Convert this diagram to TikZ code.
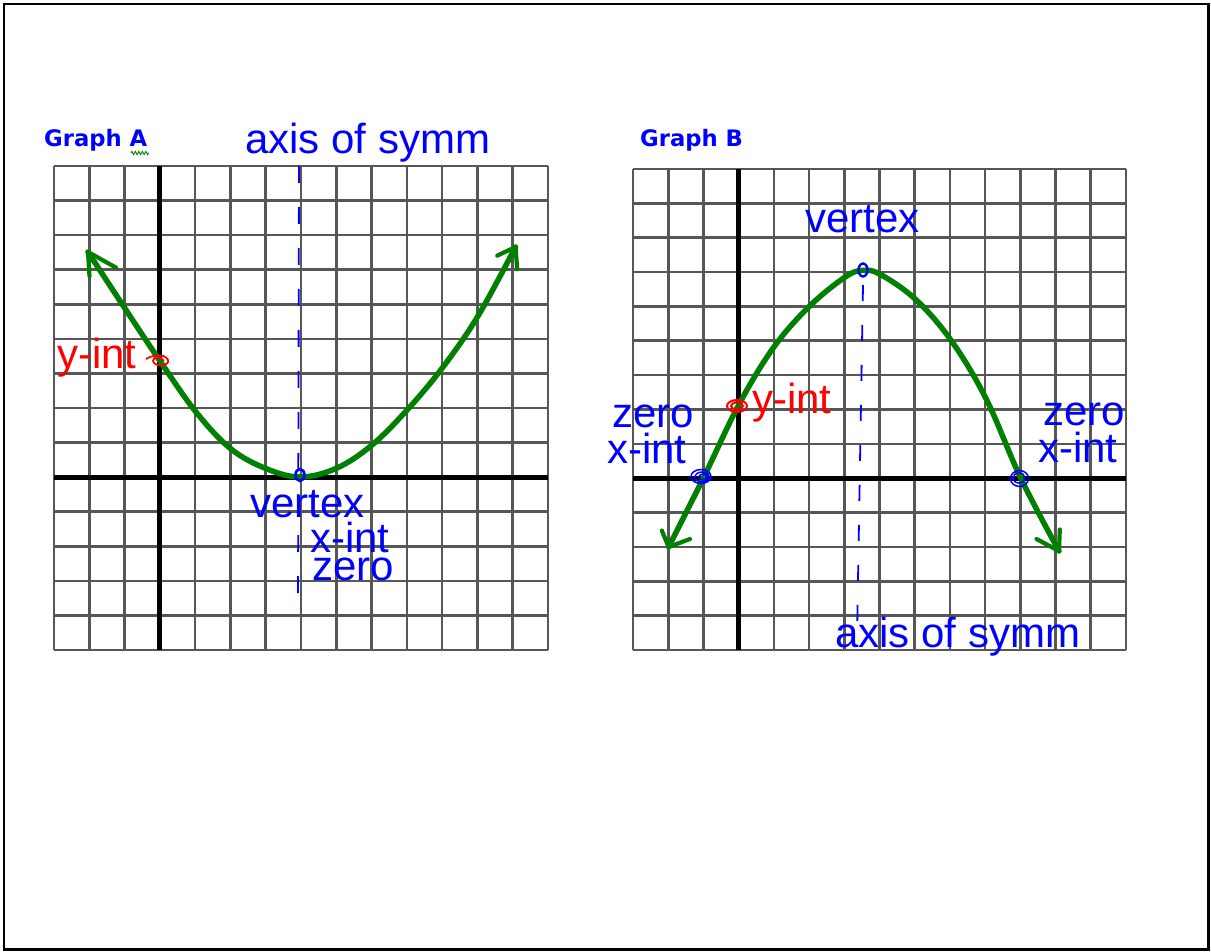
\documentclass[tikz,border=0pt]{standalone}
\usepackage{fontspec}
\setmainfont{Liberation Sans}
\newfontfamily\ttlfont{DejaVu Sans}
\usetikzlibrary{decorations.pathmorphing}
\definecolor{bl}{RGB}{0,0,255}
\definecolor{rd}{RGB}{255,0,0}
\definecolor{gr}{RGB}{0,128,0}
\begin{document}
\begin{tikzpicture}[x=1pt,y=-1pt,
  lbl/.style={font=\fontsize{42}{48}\selectfont, inner sep=0pt, anchor=base west},
  ttl/.style={font=\ttlfont\bfseries\fontsize{22.7}{26}\selectfont, text=bl, inner sep=0pt, anchor=base west},
  gridln/.style={line width=2.6pt, draw=black!66},
  axisln/.style={line width=4.8pt, draw=black},
  crvln/.style={line width=5.5pt, draw=gr, line cap=round, line join=round},
  headln/.style={line width=4.2pt, draw=gr, line cap=round, line join=round},
  symln/.style={line width=1.8pt, draw=bl, dash pattern=on 17pt off 24pt},
  scrib/.style={line width=1.8pt}]
\useasboundingbox (0,0) rectangle (1211,952);
\draw[line width=2.6pt] (4,4) rectangle (1208.7,949.7);

% ---------- Graph A ----------
\foreach \i in {0,...,14} {
  \draw[gridln] ({54+\i*494/14},166) -- ({54+\i*494/14},650);
  \draw[gridln] (54,{166+\i*484/14}) -- (548,{166+\i*484/14});
}
\draw[axisln] ({54+3*494/14},166) -- ({54+3*494/14},650);
\draw[axisln] (54,{166+9*484/14}) -- (548,{166+9*484/14});
\draw[symln] (299,166) -- (298,615);
\draw[crvln] plot[smooth, tension=0.6] coordinates {(88,252) (124,307) (160,361) (196,412) (231,449) (267,469) (301,477) (337,468) (372,445) (408,409) (443,367) (478,316) (515.5,247)};
\draw[headln] (116,267.6) -- (88,252) -- (89.5,276.2);
\draw[headln] (497.3,255.6) -- (515.5,247) -- (517.2,269.3);
\draw[bl, scrib, line width=2.6pt] (300,475) ellipse [x radius=4.5, y radius=6];
\draw[rd, scrib] (146,359) .. controls (152,355) and (165,353) .. (168,360) .. controls (170,366) and (155,368) .. (153,361) .. controls (152,357) and (162,356) .. (164,361);
\node[ttl] (gA) at (44,147) {Graph A};
\draw[gr, line width=0.9pt, decorate, decoration={zigzag, segment length=3.5pt, amplitude=1.6pt}] (131,153) -- (149,153);
\node[lbl, text=bl] (axA) at (245,154) {axis of symm};
\node[lbl, text=rd] (yintA) at (57,368) {y-int};
\node[lbl, text=bl] (vtxA) at (250,517) {vertex};
\node[lbl, text=bl] (xintA) at (310,552) {x-int};
\node[lbl, text=bl] (zeroA) at (312,580) {zero};

% ---------- Graph B ----------
\foreach \i in {0,...,14} {
  \draw[gridln] ({633+\i*493/14},169) -- ({633+\i*493/14},650);
  \draw[gridln] (633,{169+\i*481/14}) -- (1126,{169+\i*481/14});
}
\draw[axisln] ({633+3*493/14},169) -- ({633+3*493/14},650);
\draw[axisln] (633,{169+9*481/14}) -- (1126,{169+9*481/14});
\draw[symln, dash pattern=on 16pt off 24pt] (863,285) -- (857,640);
\draw[crvln] plot[smooth, tension=0.6] coordinates {(668.6,547) (703.4,478) (739,404.4) (773.4,347.7) (809.3,306.4) (844.9,277.2) (862.6,270.4) (880.5,274.5) (915.8,299.6) (951.4,340.8) (986.3,399.2) (1020.7,478) (1059,551)};
\draw[headln] (661.8,530.5) -- (668.6,547) -- (690,539);
\draw[headln] (1036.5,539) -- (1059,551) -- (1059.8,529.5);
\draw[bl, scrib, line width=2.4pt] (863,270) ellipse [x radius=4.5, y radius=6.5];
\draw[bl, scrib, line width=1.5pt] (701,476.5) ellipse [x radius=10, y radius=7] (702,477) ellipse [x radius=7, y radius=5] (703,477) ellipse [x radius=4, y radius=3];
\draw[bl, scrib, line width=1.5pt] (1019.5,478.5) ellipse [x radius=9, y radius=8] (1019,478) ellipse [x radius=6, y radius=5];
\draw[rd, scrib, line width=2pt] (737,406) ellipse [x radius=10, y radius=6] (737,406) ellipse [x radius=6, y radius=3.5];
\node[ttl] (gB) at (640,147) {Graph B};
\node[lbl, text=bl] (vtxB) at (805,233) {vertex};
\node[lbl, text=rd] (yintB) at (752,413) {y-int};
\node[lbl, text=bl] (zeroBL) at (612,427) {zero};
\node[lbl, text=bl] (xintBL) at (607,463) {x-int};
\node[lbl, text=bl] (zeroBR) at (1043,425) {zero};
\node[lbl, text=bl] (xintBR) at (1038,462) {x-int};
\node[lbl, text=bl] (axB) at (835,647) {axis of symm};
\end{tikzpicture}
\end{document}
